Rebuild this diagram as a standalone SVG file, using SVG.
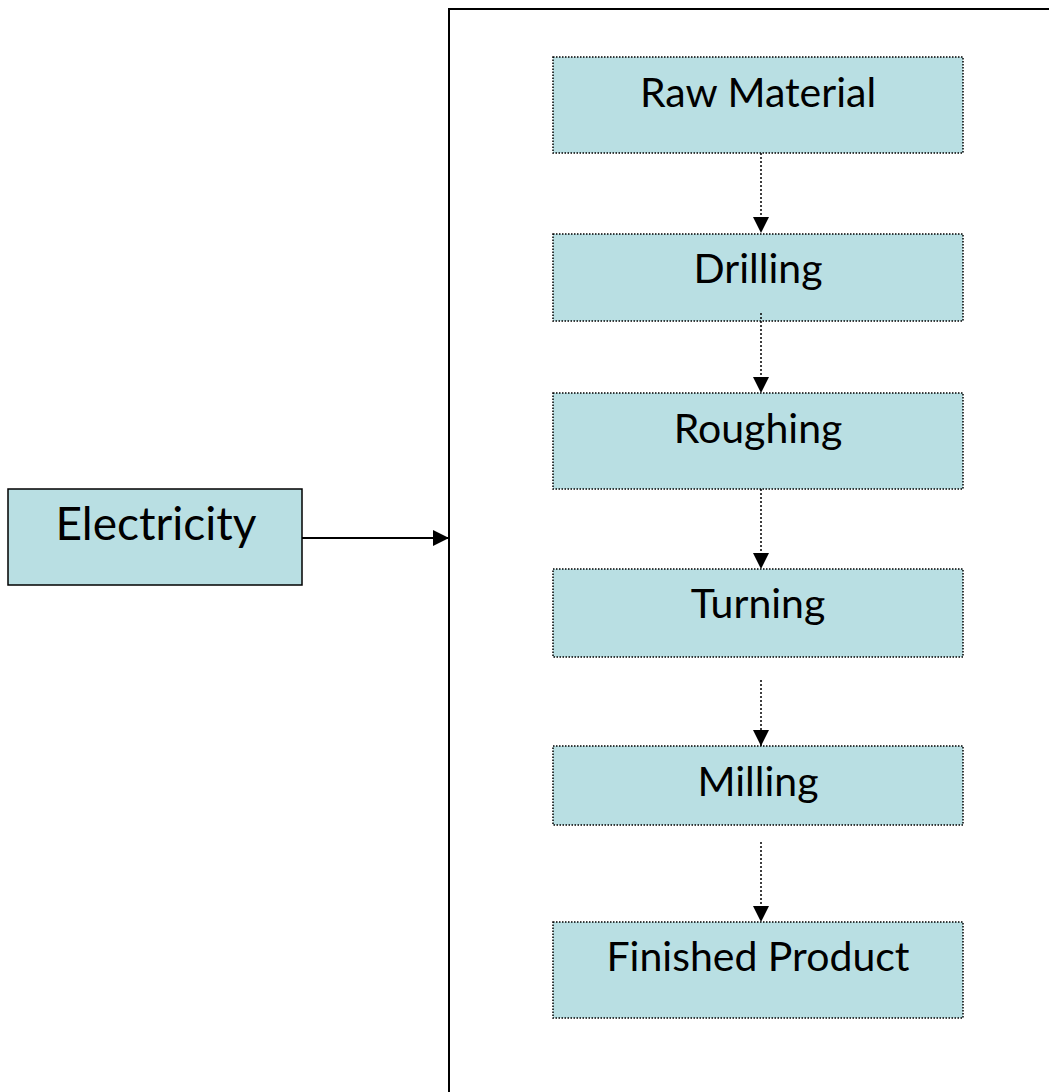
<svg xmlns="http://www.w3.org/2000/svg" width="1049" height="1092" viewBox="0 0 1049 1092">
<style>
.box{fill:#B9DFE3;stroke:#000;stroke-width:1.5;stroke-dasharray:1.5 1.5}
.ebox{fill:#B9DFE3;stroke:#000;stroke-width:1.5}
.t{font-family:Lato,"Open Sans",sans-serif;font-size:41px;fill:#000;text-anchor:middle}
.dl{stroke:#000;stroke-width:1.5;stroke-dasharray:2 2;fill:none}
</style>
<defs>
<marker id="ah" viewBox="0 0 10 10" refX="10" refY="5" markerWidth="16" markerHeight="16" markerUnits="userSpaceOnUse" orient="auto">
<path d="M0,0 L10,5 L0,10 Z" fill="#000"/>
</marker>
</defs>
<rect x="449" y="9" width="700" height="1200" fill="none" stroke="#000" stroke-width="2"/>
<g id="electricity"><rect class="ebox" x="8" y="489" width="294" height="96"/><text class="t" x="156" y="540" style="font-size:46px">Electricity</text></g>
<g id="raw-material"><rect class="box" x="553" y="57" width="410" height="96"/><text class="t" x="758" y="107">Raw Material</text></g>
<g id="drilling"><rect class="box" x="553" y="234" width="410" height="87"/><text class="t" x="758" y="283">Drilling</text></g>
<g id="roughing"><rect class="box" x="553" y="393" width="410" height="96"/><text class="t" x="758" y="443">Roughing</text></g>
<g id="turning"><rect class="box" x="553" y="569" width="410" height="88"/><text class="t" x="758" y="618">Turning</text></g>
<g id="milling"><rect class="box" x="553" y="746" width="410" height="79"/><text class="t" x="758" y="796">Milling</text></g>
<g id="finished-product"><rect class="box" x="553" y="922" width="410" height="96"/><text class="t" x="758" y="971">Finished Product</text></g>
<g id="connectors">
<line x1="302" y1="538" x2="449" y2="538" stroke="#000" stroke-width="2" marker-end="url(#ah)"/>
<line class="dl" x1="761" y1="153" x2="761" y2="233" marker-end="url(#ah)"/>
<line class="dl" x1="761" y1="313" x2="761" y2="393" marker-end="url(#ah)"/>
<line class="dl" x1="761" y1="489" x2="761" y2="569" marker-end="url(#ah)"/>
<line class="dl" x1="761" y1="680" x2="761" y2="746" marker-end="url(#ah)"/>
<line class="dl" x1="761" y1="842" x2="761" y2="922" marker-end="url(#ah)"/>
</g>
</svg>
